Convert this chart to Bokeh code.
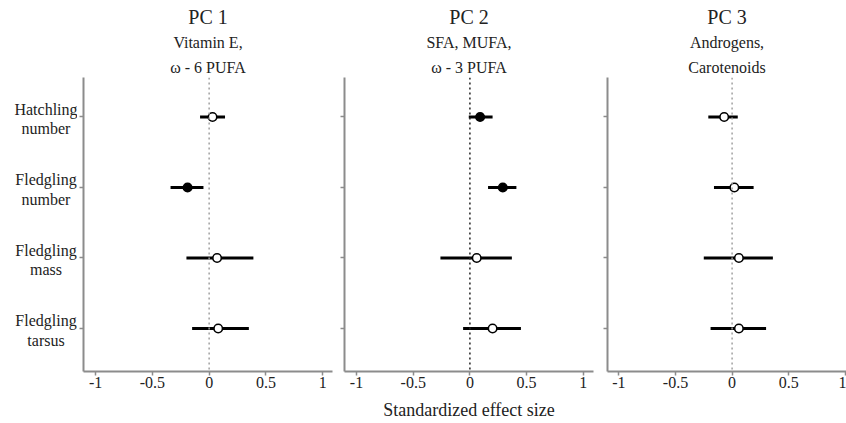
from bokeh.plotting import figure
from bokeh.layouts import row
from bokeh.models import Span, Title, FixedTicker
from bokeh.core.properties import value
from bokeh.embed import file_html
from bokeh.resources import INLINE

# ---------------- data ----------------
row_labels = ["Hatchling\nnumber", "Fledgling\nnumber", "Fledgling\nmass", "Fledgling\ntarsus"]

pc_titles = ["PC 1", "PC 2", "PC 3"]
pc_sub1 = ["Vitamin E,", "SFA, MUFA,", "Androgens,"]
pc_sub2 = ["\u03c9 - 6 PUFA", "\u03c9 - 3 PUFA", "Carotenoids"]

pc1_est = [0.03, -0.19, 0.07, 0.08]
pc1_lo = [-0.08, -0.34, -0.20, -0.15]
pc1_hi = [0.14, -0.05, 0.39, 0.35]
pc1_sig = [False, True, False, False]

pc2_est = [0.09, 0.29, 0.06, 0.20]
pc2_lo = [-0.01, 0.16, -0.26, -0.06]
pc2_hi = [0.20, 0.41, 0.37, 0.45]
pc2_sig = [True, True, False, False]

pc3_est = [-0.07, 0.02, 0.06, 0.06]
pc3_lo = [-0.21, -0.16, -0.25, -0.19]
pc3_hi = [0.05, 0.19, 0.36, 0.30]
pc3_sig = [False, False, False, False]

x_ticks = [-1, -0.5, 0, 0.5, 1]
x_tick_labels = ["-1", "-0.5", "0", "0.5", "1"]
x_axis_title = "Standardized effect size"

# ---------------- style ----------------
FONT = "Liberation Serif"
TXT = "#222222"
AX = "#8c8c8c"
FRAME_H = 294
TOP = 77
BOTTOM = 52
Y_RANGE = (0.39, 4.56)

n = len(row_labels)
ys = [n - i for i in range(n)]

figs = []

# row-label strip (left of panel 1)
lab = figure(frame_width=77, frame_height=FRAME_H, x_range=(-45.5, 31.5), y_range=Y_RANGE,
             min_border_left=0, min_border_right=0, min_border_top=TOP,
             min_border_bottom=BOTTOM, x_axis_type=None, y_axis_type=None,
             output_backend="svg", toolbar_location=None, title=None,
             background_fill_color="white", border_fill_color="white")
lab.outline_line_color = None
lab.grid.visible = False
lab.text(x=[0] * n, y=ys, text=row_labels, text_align="center", text_baseline="middle",
         text_font=value(FONT), text_font_size=value("16px"), text_color=TXT,
         text_line_height=1.17, y_offset=2)
figs.append(lab)

panels = [
    dict(est=pc1_est, lo=pc1_lo, hi=pc1_hi, sig=pc1_sig, fw=249, xr=(-1.107, 1.087),
         bl=6, br=4, zero="#a0a0a0"),
    dict(est=pc2_est, lo=pc2_lo, hi=pc2_hi, sig=pc2_sig, fw=249, xr=(-1.106, 1.09),
         bl=8, br=5, zero="#222222"),
    dict(est=pc3_est, lo=pc3_lo, hi=pc3_hi, sig=pc3_sig, fw=239, xr=(-1.1, 1.01),
         bl=9, br=0, zero="#a0a0a0"),
]

for k, pd_ in enumerate(panels):
    p = figure(frame_width=pd_["fw"], frame_height=FRAME_H,
               x_range=pd_["xr"], y_range=Y_RANGE,
               min_border_left=pd_["bl"], min_border_right=pd_["br"],
               min_border_top=TOP, min_border_bottom=BOTTOM,
               output_backend="svg", toolbar_location=None, title=None,
               background_fill_color="white", border_fill_color="white")
    p.outline_line_color = None
    p.grid.visible = False

    # titles (first added is closest to the frame)
    p.add_layout(Title(text=pc_sub2[k], align="center", text_font=FONT, text_font_size="16px",
                       text_font_style="normal", text_color=TXT, standoff=4, offset=0), "above")
    p.add_layout(Title(text=pc_sub1[k], align="center", text_font=FONT, text_font_size="16px",
                       text_font_style="normal", text_color=TXT, standoff=8, offset=0), "above")
    p.add_layout(Title(text=pc_titles[k], align="center", text_font=FONT, text_font_size="20px",
                       text_font_style="normal", text_color=TXT, standoff=0, offset=0), "above")

    # axes
    p.xaxis.ticker = FixedTicker(ticks=x_ticks)
    p.xaxis.major_label_overrides = dict(zip(x_ticks, x_tick_labels))
    p.xaxis.major_label_text_font = FONT
    p.xaxis.major_label_text_font_size = "16px"
    p.xaxis.major_label_text_color = TXT
    p.xaxis.major_label_standoff = 1
    for ax in (p.xaxis, p.yaxis):
        ax.axis_line_color = AX
        ax.axis_line_width = 2
        ax.major_tick_line_color = AX
        ax.major_tick_line_width = 1.5
        ax.major_tick_in = 0
        ax.major_tick_out = 4
        ax.minor_tick_line_color = None
    p.yaxis.ticker = FixedTicker(ticks=ys)
    p.yaxis.major_label_overrides = {y: "" for y in ys}
    p.yaxis.major_label_standoff = 0

    if k == 1:
        p.xaxis.axis_label = x_axis_title
        p.xaxis.axis_label_text_font = FONT
        p.xaxis.axis_label_text_font_size = "18px"
        p.xaxis.axis_label_text_font_style = "normal"
        p.xaxis.axis_label_text_color = TXT
        p.xaxis.axis_label_standoff = 9

    # zero line
    p.add_layout(Span(location=0, dimension="height", line_color=pd_["zero"],
                      line_dash="2 3", line_width=1.5))

    # error bars and points
    p.segment(x0=pd_["lo"], y0=ys, x1=pd_["hi"], y1=ys, line_color="black",
              line_width=3)
    fills = ["black" if s else "white" for s in pd_["sig"]]
    p.scatter(x=pd_["est"], y=ys, size=8.5, fill_color=fills, line_color="black",
              line_width=1.6)
    figs.append(p)

layout = row(*figs)
open("out.html", "w").write(file_html(layout, INLINE))
